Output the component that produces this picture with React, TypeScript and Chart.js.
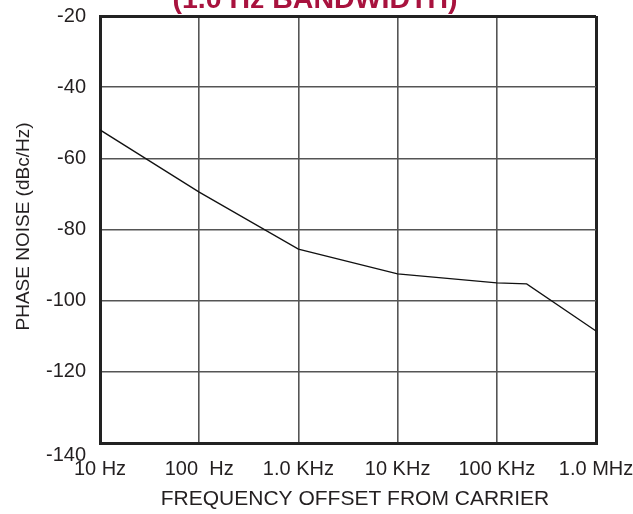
import React, { useEffect, useRef } from "react";
import { Chart, registerables } from "chart.js";

Chart.register(...registerables);

// ---- data ----
const frequencies = [10, 100, 1000, 10000, 100000, 200000, 1000000];
const phaseNoise = [-52, -69.5, -85.5, -92.5, -95, -95.3, -108.5];

const xTickValues = [10, 100, 1000, 10000, 100000, 1000000];
const xTickLabels = ["10 Hz", "100  Hz", "1.0 KHz", "10 KHz", "100 KHz", "1.0 MHz"];
const yTickValues = [-140, -120, -100, -80, -60, -40, -20];
const yTickLabels = ["-140", "-120", "-100", "-80", "-60", "-40", "-20"];

const chartTitle = "(1.0 Hz BANDWIDTH)";
const xAxisTitle = "FREQUENCY OFFSET FROM CARRIER";
const yAxisTitle = "PHASE NOISE (dBc/Hz)";

const FONT = "'Liberation Sans', Arial, Helvetica, sans-serif";
const TEXT_COLOR = "#231f20";

const textPlugin = {
  id: "customTexts",
  afterDraw(chart: any) {
    const { ctx, chartArea } = chart;
    const cx = (chartArea.left + chartArea.right) / 2;
    ctx.save();
    // main title (partly cut off at top)
    ctx.fillStyle = "#a8123e";
    ctx.font = `bold 28.5px ${FONT}`;
    ctx.textAlign = "center";
    ctx.textBaseline = "alphabetic";
    ctx.fillText(chartTitle, cx - 33, 8);
    // x axis title
    ctx.fillStyle = TEXT_COLOR;
    ctx.font = `21px ${FONT}`;
    ctx.textBaseline = "middle";
    ctx.fillText(xAxisTitle, cx + 7, 499);
    // y axis title
    ctx.font = `19px ${FONT}`;
    ctx.translate(24, (chartArea.top + chartArea.bottom) / 2 - 3);
    ctx.rotate(-Math.PI / 2);
    ctx.fillText(yAxisTitle, 0, 0);
    ctx.restore();
  },
};

export default function App() {
  const canvasRef = useRef<HTMLCanvasElement | null>(null);

  useEffect(() => {
    const canvas = canvasRef.current;
    if (!canvas) return;
    const edgeX = (v: number) => v === xTickValues[0] || v === xTickValues[xTickValues.length - 1];
    const edgeY = (v: number) => v === yTickValues[0] || v === yTickValues[yTickValues.length - 1];

    const chart = new Chart(canvas, {
      type: "line",
      data: {
        datasets: [
          {
            data: frequencies.map((f, i) => ({ x: f, y: phaseNoise[i] })),
            borderColor: "#111111",
            borderWidth: 1.3,
            pointRadius: 0,
            tension: 0,
            fill: false,
          },
        ],
      },
      options: {
        responsive: false,
        animation: false,
        devicePixelRatio: 1,
        layout: { padding: { left: 0, top: 16, right: 37, bottom: 0 } },
        plugins: {
          legend: { display: false },
          title: { display: false },
          tooltip: { enabled: false },
        },
        scales: {
          x: {
            type: "logarithmic",
            min: 10,
            max: 1000000,
            afterBuildTicks: (scale: any) => {
              scale.ticks = xTickValues.map((v) => ({ value: v }));
            },
            afterFit: (scale: any) => {
              scale.height = 71;
              scale.paddingLeft = 0;
              scale.paddingRight = 0;
            },
            ticks: {
              autoSkip: false,
              maxRotation: 0,
              minRotation: 0,
              padding: 14,
              color: TEXT_COLOR,
              font: { size: 20, family: FONT },
              callback: (value: any) => {
                const i = xTickValues.indexOf(Number(value));
                return i >= 0 ? xTickLabels[i] : "";
              },
            },
            grid: {
              drawTicks: false,
              color: (ctx: any) => (ctx.tick && edgeX(ctx.tick.value) ? "#222222" : "#555555"),
              lineWidth: (ctx: any) => (ctx.tick && edgeX(ctx.tick.value) ? 3 : 1.6),
            },
            border: { display: true, color: "#222222", width: 3 },
          },
          y: {
            type: "linear",
            min: -140,
            max: -20,
            afterBuildTicks: (scale: any) => {
              scale.ticks = yTickValues.map((v) => ({ value: v }));
            },
            afterFit: (scale: any) => {
              scale.width = 100;
              scale.paddingTop = 0;
              scale.paddingBottom = 0;
            },
            ticks: {
              padding: 14,
              color: TEXT_COLOR,
              font: { size: 20, family: FONT },
              callback: (value: any) => {
                const i = yTickValues.indexOf(Number(value));
                if (i < 0) return "";
                return i === 0 ? ["", yTickLabels[i]] : yTickLabels[i];
              },
            },
            grid: {
              drawTicks: false,
              color: (ctx: any) => (ctx.tick && edgeY(ctx.tick.value) ? "#222222" : "#555555"),
              lineWidth: (ctx: any) => (ctx.tick && edgeY(ctx.tick.value) ? 3 : 1.6),
            },
            border: { display: true, color: "#222222", width: 3 },
          },
        },
      },
      plugins: [textPlugin],
    } as any);

    return () => chart.destroy();
  }, []);

  return (
    <div style={{ position: "absolute", left: 0, top: 0, width: 633, height: 514, background: "#ffffff" }}>
      <canvas ref={canvasRef} width={633} height={514} style={{ display: "block" }} />
    </div>
  );
}
